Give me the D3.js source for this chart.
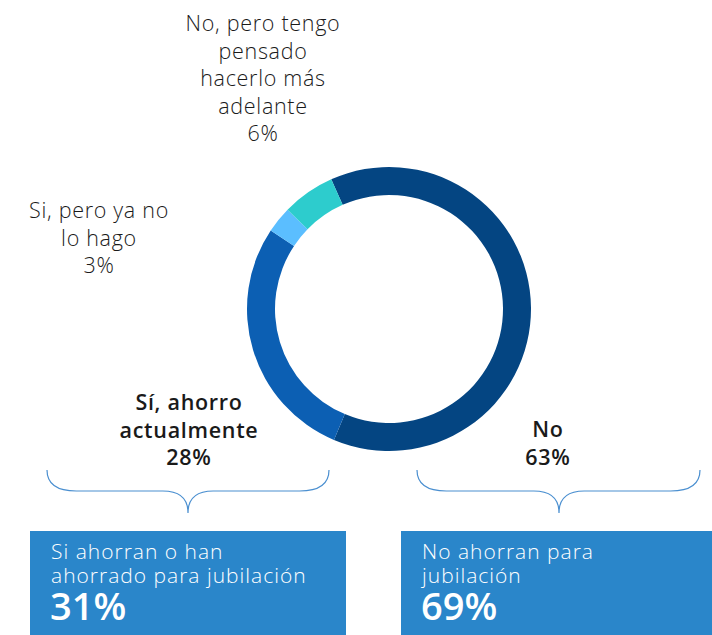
<!DOCTYPE html>
<html>
<head>
<meta charset="utf-8">
<script src="https://cdn.jsdelivr.net/npm/d3@7"></script>
<style>
  body { margin: 0; background: #fff; }
  svg { display: block; font-family: "Open Sans", Lato, sans-serif; }
</style>
</head>
<body>
<div id="chart"></div>
<script>
// data
const categories = ["No", "Sí, ahorro actualmente", "Si, pero ya no lo hago", "No, pero tengo pensado hacerlo más adelante"];
const values = [63, 28, 3, 6];
const colors = ["#044582", "#0c5fb3", "#5bbeff", "#2dcccd"];
const groupLabels = [["Si ahorran o han", "ahorrado para jubilación"], ["No ahorran para", "jubilación"]];
const groupValues = [31, 69];

const width = 712, height = 635;
const cx = 389, cy = 309;
const outerR = 142, innerR = 114;

const svg = d3.select("#chart").append("svg")
    .attr("width", width)
    .attr("height", height);

const startA = -24 * Math.PI / 180;
const pie = d3.pie().sort(null)
    .startAngle(startA)
    .endAngle(startA + 2 * Math.PI);
const arc = d3.arc().innerRadius(innerR).outerRadius(outerR);

svg.append("g")
    .attr("transform", `translate(${cx},${cy})`)
    .selectAll("path")
    .data(pie(values))
    .join("path")
    .attr("d", arc)
    .attr("fill", (d, i) => colors[i]);

// labels round the ring
function label(lines, x, y0, weight) {
    const t = svg.append("text")
        .attr("text-anchor", "middle")
        .attr("font-size", 21.5)
        .attr("letter-spacing", 0.7)
        .attr("font-weight", weight)
        .attr("fill", "#1a1a1a");
    lines.forEach((l, i) => {
        t.append("tspan").attr("x", x).attr("y", y0 + i * 27.5).text(l);
    });
}
label(["No, pero tengo", "pensado", "hacerlo más", "adelante", values[3] + "%"], 263, 31, 300);
label(["Si, pero ya no", "lo hago", values[2] + "%"], 99, 218, 300);
label(["Sí, ahorro", "actualmente", values[1] + "%"], 189, 410, 600);
label(["No", values[0] + "%"], 548, 437, 600);

// braces
function brace(x0, x1, xm, yTop, yMid, yTip) {
    const r = yMid - yTop;
    const p = d3.path();
    p.moveTo(x0, yTop);
    p.quadraticCurveTo(x0, yMid, x0 + r * 1.4, yMid);
    p.lineTo(xm - r * 1.2, yMid);
    p.quadraticCurveTo(xm, yMid, xm, yTip);
    p.quadraticCurveTo(xm, yMid, xm + r * 1.2, yMid);
    p.lineTo(x1 - r * 1.4, yMid);
    p.quadraticCurveTo(x1, yMid, x1, yTop);
    svg.append("path")
        .attr("d", p.toString())
        .attr("fill", "none")
        .attr("stroke", "#4a8fd0")
        .attr("stroke-width", 1.2);
}
brace(47, 329, 188, 470, 491, 513);
brace(417, 700, 559, 470, 491, 513);

// boxes
const boxes = [{x: 30, w: 316}, {x: 401, w: 311}];
boxes.forEach((b, i) => {
    svg.append("rect")
        .attr("x", b.x).attr("y", 531)
        .attr("width", b.w).attr("height", height - 531)
        .attr("fill", "#2a86ca");
    const t = svg.append("text")
        .attr("fill", "#fff")
        .attr("font-size", 21)
        .attr("font-weight", 300)
        .attr("letter-spacing", 1.0);
    groupLabels[i].forEach((l, j) => {
        t.append("tspan").attr("x", b.x + 21).attr("y", 559 + j * 24).text(l);
    });
    svg.append("text")
        .attr("x", b.x + 20).attr("y", 620)
        .attr("fill", "#fff")
        .attr("font-size", 38)
        .attr("font-weight", 600)
        .text(groupValues[i] + "%");
});
</script>
</body>
</html>
